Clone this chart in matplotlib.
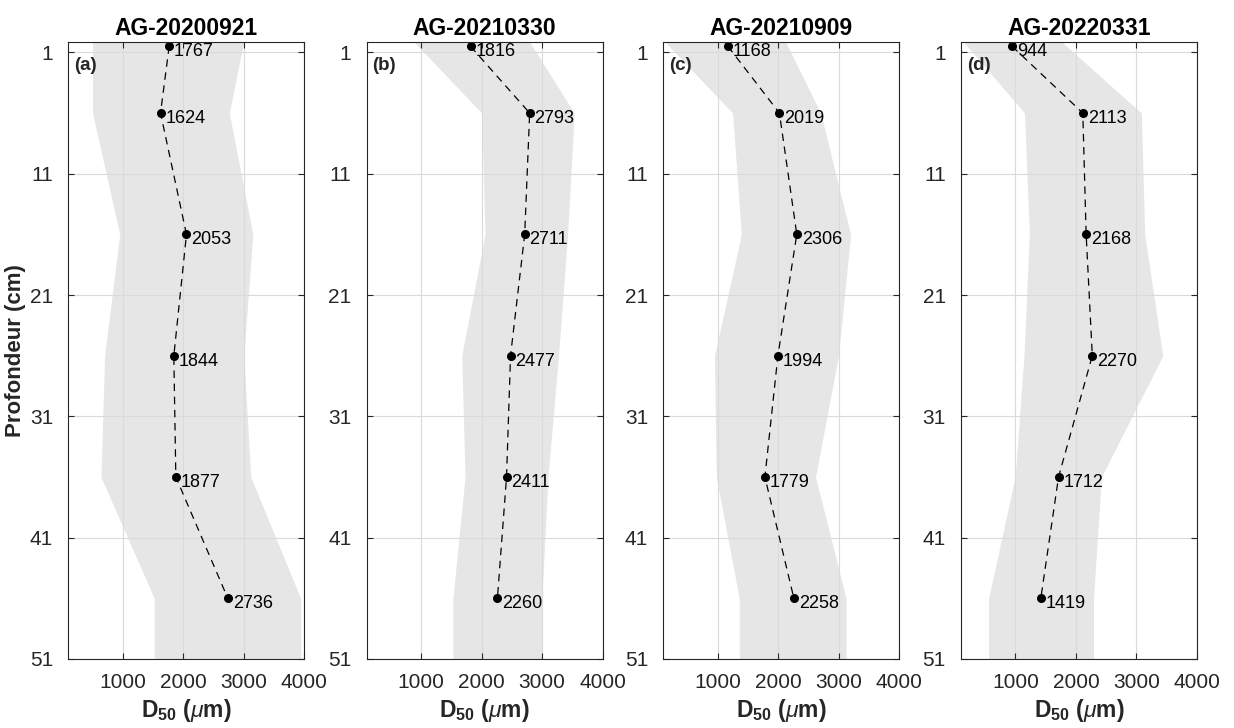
import matplotlib
matplotlib.use("Agg")
import matplotlib.pyplot as plt
import numpy as np

plt.rcParams['font.family'] = ['Liberation Sans', 'DejaVu Sans']
plt.rcParams['mathtext.fontset'] = 'custom'
plt.rcParams['mathtext.rm'] = 'Liberation Sans'
plt.rcParams['mathtext.bf'] = 'Liberation Sans:bold'
plt.rcParams['mathtext.it'] = 'Liberation Sans:italic'

titles = ["AG-20200921", "AG-20210330", "AG-20210909", "AG-20220331"]
panel_labels = ["(a)", "(b)", "(c)", "(d)"]

depth = [0.5, 6, 16, 26, 36, 46]
band_depth = [0, 6, 16, 26, 36, 46, 51]

d50_a = [1767, 1624, 2053, 1844, 1877, 2736]
d50_b = [1816, 2793, 2711, 2477, 2411, 2260]
d50_c = [1168, 2019, 2306, 1994, 1779, 2258]
d50_d = [944, 2113, 2168, 2270, 1712, 1419]

lo_a = [500, 500, 950, 700, 640, 1520, 1520]
hi_a = [3005, 2760, 3150, 3000, 3115, 3940, 3940]
lo_b = [855, 2000, 2055, 1670, 1725, 1525, 1525]
hi_b = [2775, 3530, 3420, 3270, 3095, 2995, 2995]
lo_c = [100, 1245, 1390, 945, 975, 1355, 1355]
hi_c = [2108, 2700, 3195, 2995, 2615, 3120, 3120]
lo_d = [120, 1150, 1230, 1140, 995, 555, 555]
hi_d = [1734, 3080, 3135, 3435, 2420, 2290, 2290]

d50s = [d50_a, d50_b, d50_c, d50_d]
los = [lo_a, lo_b, lo_c, lo_d]
his = [hi_a, hi_b, hi_c, hi_d]

xticks = [1000, 2000, 3000, 4000]
yticks = [1, 11, 21, 31, 41, 51]

W, H = 1234, 728
fig = plt.figure(figsize=(W / 100, H / 100), dpi=100)

axc = '#262626'
lefts = [68.3, 366.7, 663.3, 961.0]
aw = 236.0
top_px, bot_px = 41.7, 659.0

for i in range(4):
    ax = fig.add_axes([lefts[i] / W, (H - bot_px) / H, aw / W, (bot_px - top_px) / H])
    ax.fill_betweenx(band_depth, los[i], his[i], color='#e6e6e6', linewidth=0, zorder=1)
    ax.plot(d50s[i], depth, linestyle=(0, (6, 4.5)), color='black', linewidth=0.9, zorder=3)
    ax.plot(d50s[i], depth, 'o', color='black', markersize=5.5, zorder=4)
    for xv, yv in zip(d50s[i], depth):
        ax.annotate(str(xv), (xv, yv), xytext=(3.5, -4), textcoords='offset points',
                    ha='left', va='center', fontsize=13, color='black', zorder=5)
    ax.set_xlim(100, 4000)
    ax.set_ylim(51, 0.12)
    ax.set_xticks(xticks)
    ax.set_yticks(yticks)
    ax.grid(True, color='#dadada', linewidth=0.8, zorder=2)
    ax.set_axisbelow(False)
    ax.tick_params(direction='in', length=4, width=0.8, top=True, right=True,
                   labelsize=15, colors=axc, pad=10)
    ax.tick_params(axis='y', pad=11)
    for s in ax.spines.values():
        s.set_color(axc)
        s.set_linewidth(0.8)
        s.set_zorder(6)
    ax.set_title(titles[i], fontsize=16.5, fontweight='bold', pad=5, color='black')
    ax.set_xlabel(r'$\mathbf{D_{50}}$ $\mathbf{(}\mathit{\mu}\mathbf{m)}$', fontsize=16.5, color=axc, labelpad=4)
    ax.text(0.025, 0.975, panel_labels[i], transform=ax.transAxes, ha='left', va='top',
            fontsize=13.5, fontweight='bold', color=axc, zorder=7)
    if i == 0:
        ax.set_ylabel('Profondeur (cm)', fontsize=16, fontweight='bold', color=axc, labelpad=3)

fig.savefig('out.png', dpi=100)
